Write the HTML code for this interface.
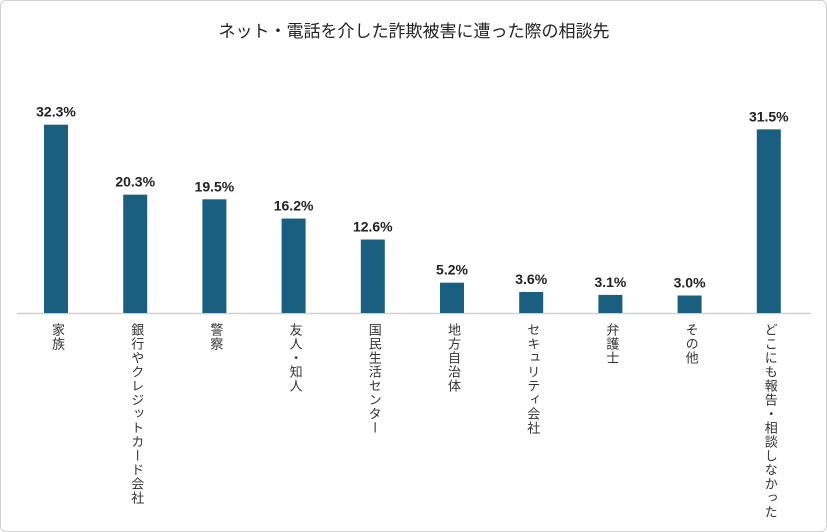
<!DOCTYPE html>
<html><head><meta charset="utf-8">
<style>
body{margin:0;background:#fff;font-family:"Liberation Sans","Noto Sans CJK JP",sans-serif;}
#wrap{position:relative;width:825px;height:530px;border:1px solid #d0d0d0;border-radius:6px;overflow:hidden;}
.lbl{position:absolute;top:322px;writing-mode:vertical-rl;font-size:13px;color:#333;letter-spacing:1px;line-height:14px;}
</style></head><body>
<div id="wrap">
<svg id="svg" width="825" height="530"></svg>
</div>
<script>
const categories=["家族","銀行やクレジットカード会社","警察","友人・知人","国民生活センター","地方自治体","セキュリティ会社","弁護士","その他","どこにも報告・相談しなかった"];
const values=[32.3,20.3,19.5,16.2,12.6,5.2,3.6,3.1,3.0,31.5];
const valueLabels=["32.3%","20.3%","19.5%","16.2%","12.6%","5.2%","3.6%","3.1%","3.0%","31.5%"];
const NS="http://www.w3.org/2000/svg";
const svg=document.getElementById('svg');
const wrap=document.getElementById('wrap');
const base=312, ppu=5.83, x0=55, step=79.2, bw=24;
const xs=i=>x0+i*step;
const ys=v=>base-v*ppu;
const t=document.createElementNS(NS,'text');
t.setAttribute('x',413);t.setAttribute('y',36);t.setAttribute('text-anchor','middle');
t.setAttribute('font-size','17');t.setAttribute('fill','#222');
t.textContent="ネット・電話を介した詐欺被害に遭った際の相談先";


svg.appendChild(t);
const ax=document.createElementNS(NS,'line');
ax.setAttribute('x1',16);ax.setAttribute('x2',810);ax.setAttribute('y1',base+0.5);ax.setAttribute('y2',base+0.5);
ax.setAttribute('stroke','#d0d0d0');ax.setAttribute('stroke-width','1.5');


svg.appendChild(ax);
values.forEach((v,i)=>{
 const r=document.createElementNS(NS,'rect');
 r.setAttribute('x',xs(i)-bw/2);r.setAttribute('y',ys(v));r.setAttribute('width',bw);r.setAttribute('height',base-ys(v));
 r.setAttribute('fill','#1a5e80');
 
 
 svg.appendChild(r);
 const tx=document.createElementNS(NS,'text');
 tx.setAttribute('x',xs(i));tx.setAttribute('y',ys(v)-8);tx.setAttribute('text-anchor','middle');
 tx.setAttribute('font-size','14');tx.setAttribute('font-weight','bold');tx.setAttribute('fill','#222');
 tx.textContent=valueLabels[i];
 
 
 svg.appendChild(tx);
 const d=document.createElement('div');
 d.className='lbl';d.style.left=(xs(i)-6)+'px';d.textContent=categories[i];
 
 
 wrap.appendChild(d);
});
</script>
</body></html>
